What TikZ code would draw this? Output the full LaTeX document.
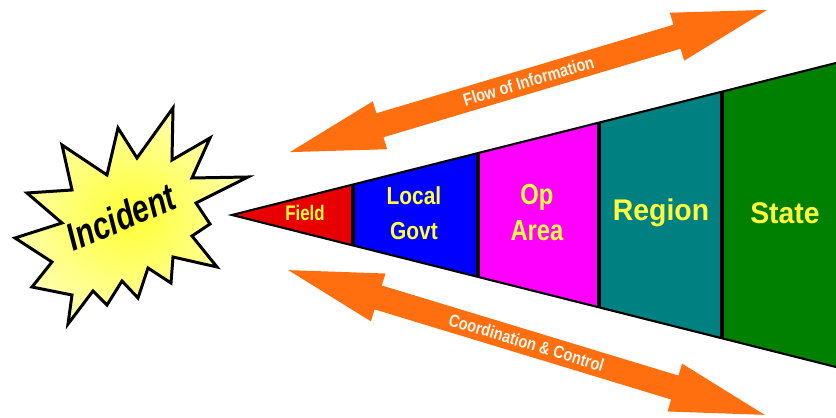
\documentclass[tikz,border=0pt]{standalone}
\usepackage{fontspec}
\setmainfont{Liberation Sans}

\definecolor{fieldred}{RGB}{232,0,0}
\definecolor{govtblue}{RGB}{0,0,255}
\definecolor{opmagenta}{RGB}{255,0,255}
\definecolor{regionteal}{RGB}{0,128,128}
\definecolor{stategreen}{RGB}{0,128,0}
\definecolor{arroworange}{RGB}{255,110,15}
\definecolor{lblyellow}{RGB}{255,255,60}
\definecolor{starcore}{RGB}{255,255,50}
\definecolor{starrim}{RGB}{255,255,170}

\begin{document}
\begin{tikzpicture}[x=0.02cm, y=0.02cm,
    lbl/.style={text=lblyellow, align=center, inner sep=0pt},
    arrowtxt/.style={text={rgb,255:red,255;green,246;blue,236}, inner sep=0pt,
      font=\bfseries\fontsize{10}{10}\selectfont},
    edge/.style={black, line width=1.2pt, line join=miter},
    divider/.style={black, line width=2.3pt}]
  \useasboundingbox (0,0) rectangle (836,418);

  % Funnel sections
  \fill[fieldred]   (232,203) -- (353,233.5) -- (353,172.5) -- cycle;
  \fill[govtblue]   (353,233.5) -- (478,264.9) -- (478,141.1) -- (353,172.5) -- cycle;
  \fill[opmagenta]  (478,264.9) -- (599,295.4) -- (599,110.6) -- (478,141.1) -- cycle;
  \fill[regionteal] (599,295.4) -- (722,326.3) -- (722,79.7) -- (599,110.6) -- cycle;
  \fill[stategreen] (722,326.3) -- (836,355) -- (836,51) -- (722,79.7) -- cycle;
  \draw[edge] (836,355) -- (232,203) -- (836,51);
  \foreach \x/\h in {353/30.5, 478/61.9, 599/92.4, 722/123.3}
    \draw[divider] (\x,203+\h) -- (\x,203-\h);

  % Labels
  \node[lbl, xscale=0.8, font=\bfseries\fontsize{12}{12}\selectfont] (field) at (305,205) {Field};
  \node[lbl, xscale=0.85, font=\bfseries\fontsize{14}{20}\selectfont] (localgovt) at (414,205) {Local\\Govt};
  \node[lbl, xscale=0.82, font=\bfseries\fontsize{16.5}{20.5}\selectfont] (oparea) at (537,205) {Op\\Area};
  \node[lbl, xscale=0.95, font=\bfseries\fontsize{17}{17}\selectfont] (region) at (661,205) {Region};
  \node[lbl, xscale=0.95, font=\bfseries\fontsize{17}{17}\selectfont] (state) at (785,205) {State};

  % Incident burst
  \shadedraw[inner color=starcore, outer color=starrim, draw=black, line width=1.7pt, line join=miter]
    (118,290) -- (137,260) -- (173,310) -- (172,258) -- (210,280) -- (192,240)
    -- (248,241) -- (196,215) -- (210,194) -- (192,182) -- (217,151) -- (173,161)
    -- (171,135) -- (148,150) -- (138,120) -- (122,137) -- (107,113) -- (93,127)
    -- (68,94) -- (72,123) -- (32,131) -- (52,156) -- (15,180) -- (62,195)
    -- (27,225) -- (72,228) -- (62,273) -- (107,243) -- cycle;
  \node[rotate=23, xscale=0.77, inner sep=0pt, font=\bfseries\itshape\fontsize{22}{22}\selectfont] (incident) at (121,201) {Incident};

  % Flow of information
  \begin{scope}[shift={(528.5,337)}, rotate=16.6]
    \fill[arroworange] (-249,0) -- (-155,25) -- (-155,12.5) -- (155,12.5) -- (155,25) -- (249,0)
      -- (155,-25) -- (155,-12.5) -- (-155,-12.5) -- (-155,-25) -- cycle;
  \end{scope}
  \node[arrowtxt, rotate=16.6, xscale=0.83] (flowinfo) at (528.5,337) {Flow of Information};

  % Coordination and control
  \begin{scope}[shift={(526.5,75.5)}, rotate=-16.9]
    \fill[arroworange] (-249,0) -- (-155,25) -- (-155,12.5) -- (155,12.5) -- (155,25) -- (249,0)
      -- (155,-25) -- (155,-12.5) -- (-155,-12.5) -- (-155,-25) -- cycle;
  \end{scope}
  \node[arrowtxt, rotate=-16.9, xscale=0.83] (coordctrl) at (526.5,75.5) {Coordination \& Control};
\end{tikzpicture}
\end{document}
